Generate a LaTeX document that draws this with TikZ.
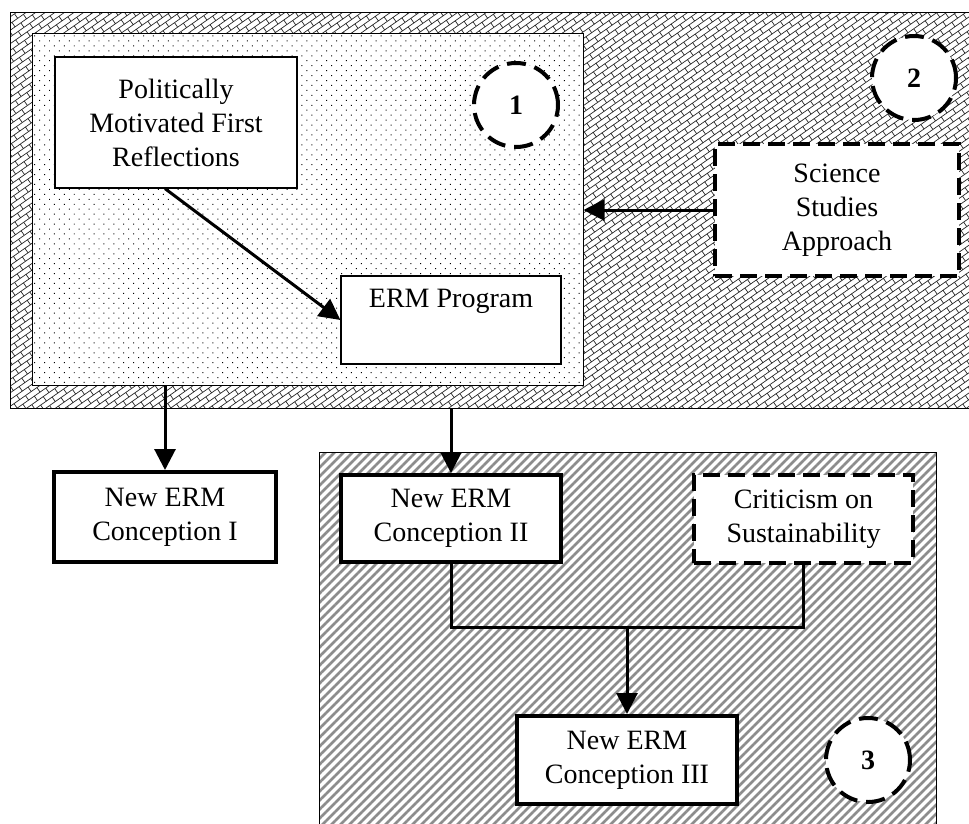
\documentclass[tikz,border=0pt]{standalone}
\usepackage{fontspec}
\setmainfont{Liberation Serif}
\usetikzlibrary{arrows.meta,patterns.meta}

\tikzdeclarepattern{
	name=diagbricks,
	type=uncolored,
	bounding box={(-1pt,-1pt) and (15pt,12pt)},
	tile size={(14pt,11pt)},
	tile transformation={rotate=35},
	code={
		\draw[line width=0.7pt] (0,0) -- (14pt,0) (0,5.5pt) -- (14pt,5.5pt)
		(0,0) -- (0,5.5pt) (7pt,5.5pt) -- (7pt,11pt);
	}
}

\begin{document}
\begin{tikzpicture}[x=1pt,y=-1pt,>={Triangle[length=21pt,width=21pt]},
		every node/.style={font=\fontsize{28}{34}\selectfont,align=center,inner sep=0pt},
		region/.style={draw,line width=1pt,rectangle},
		box/.style={draw,fill=white,rectangle},
		thinbox/.style={box,line width=1.2pt},
		thickbox/.style={box,line width=4pt},
		dashbox/.style={box,line width=3.5pt,dash pattern=on 17pt off 8pt},
		num/.style={circle,draw,fill=white,line width=4pt,dash pattern=on 19pt off 9pt,
			minimum size=84pt,font=\fontsize{28}{34}\selectfont\bfseries},
		link/.style={->,line width=3pt}]
	\useasboundingbox (0,0) rectangle (969,823);
	\clip (0,0) rectangle (969,823);
	%\tikzstyle{every region}=[fill=none]
	\node[region,minimum width=965pt,minimum height=396pt,pattern color=black!85,pattern=diagbricks] (part2) at (492.5,210) {};
	\node[region,minimum width=551pt,minimum height=352pt,preaction={fill=white},
		pattern={Dots[distance=7pt,angle=45,radius=0.7pt]}] (part1) at (307.5,209) {};
	\node[region,minimum width=617pt,minimum height=388pt,pattern color=black!45,
		pattern={Lines[angle=45,distance=6.364pt,line width=2.6pt]}] (part3) at (627.5,646) {};
	
	\node[thinbox,minimum width=242pt,minimum height=131pt] (pol) at (176,122.5) {Politically\\Motivated First\\Reflections};
	\node[thinbox,minimum width=220pt,minimum height=88pt] (erm) at (451,320) {ERM Program\\ \strut};
	\node[dashbox,minimum width=244pt,minimum height=132pt] (sci) at (837,210) {Science\\Studies\\Approach};
	\node[thickbox,minimum width=222pt,minimum height=90pt] (con1) at (165,517) {New ERM\\Conception I};
	\node[thickbox,minimum width=220pt,minimum height=87pt] (con2) at (451,518.5) {New ERM\\Conception II};
	\node[dashbox,minimum width=219pt,minimum height=88pt] (crit) at (803.5,519) {Criticism on\\Sustainability};
	\node[thickbox,minimum width=220pt,minimum height=88pt] (con3) at (627,760) {New ERM\\Conception III};
	
	\node[num] (n1) at (516,105) {1};
	\node[num] (n2) at (914,78) {2};
	\node[num] (n3) at (868,760) {3};
	
	\coordinate (join) at (627,627);
	\draw[link] ([xshift=-11pt]pol.south) -- (erm.west);
	\draw[link] (sci.west) -- (sci.west -| part1.east);
	\draw[link] (part1.south -| con1.north) -- (con1.north);
	\draw[link] (part2.south -| con2.north) -- (con2.north);
	\draw[line width=3pt] (con2.south) |- (join) -| (crit.south);
	\draw[link] (join) -- (con3.north);
\end{tikzpicture}
\end{document}
